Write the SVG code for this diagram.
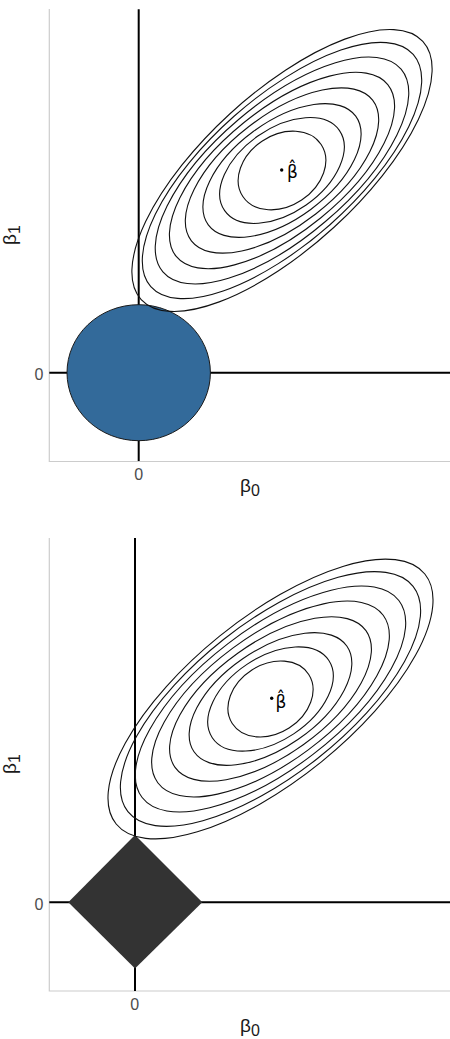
<svg xmlns="http://www.w3.org/2000/svg" width="450" height="1039" viewBox="0 0 450 1039">
<style>
.frame{stroke:#cccccc;stroke-width:1.2;fill:none}
.axis{stroke:#000;stroke-width:2;fill:none}
.contour{stroke:#111;stroke-width:1.1;fill:none}
.tick{font-family:"Liberation Sans",Arial,sans-serif;font-size:16px;fill:#4d4d4d}
.title{font-family:"Liberation Sans",Arial,sans-serif;font-size:19px;fill:#1a1a1a}
.lbl{font-family:"DejaVu Sans","Liberation Sans",sans-serif;font-size:17px;fill:#000}
</style>
<rect width="450" height="1039" fill="#fff"/>

<g id="panel-ridge">
  <g id="ridge-axes">
    <path class="frame" d="M49.3,9 V461.5 H450"/>
    <path class="axis" d="M138.7,9.3 V461 M49.3,372.7 H450"/>
  </g>
  <g id="ridge-constraint">
    <ellipse cx="138.7" cy="372.7" rx="71.7" ry="68" fill="#336a9a" stroke="#1a1a1a" stroke-width="1"/>
  </g>
  <g id="ridge-contours">
    <ellipse class="contour" cx="282" cy="170.5" rx="47" ry="35.5" transform="rotate(-33.6 282 170.5)"/>
    <ellipse class="contour" cx="282" cy="170.5" rx="70" ry="42.1" transform="rotate(-35 282 170.5)"/>
    <ellipse class="contour" cx="282" cy="170.5" rx="91.6" ry="48.4" transform="rotate(-36.4 282 170.5)"/>
    <ellipse class="contour" cx="282" cy="170.5" rx="114.7" ry="55" transform="rotate(-37.8 282 170.5)"/>
    <ellipse class="contour" cx="282" cy="170.5" rx="136.3" ry="61.2" transform="rotate(-39.1 282 170.5)"/>
    <ellipse class="contour" cx="282" cy="170.5" rx="156.4" ry="67" transform="rotate(-40.4 282 170.5)"/>
    <ellipse class="contour" cx="282" cy="170.5" rx="175.2" ry="72.4" transform="rotate(-41.5 282 170.5)"/>
    <ellipse class="contour" cx="282" cy="170.5" rx="191" ry="77" transform="rotate(-42.5 282 170.5)"/>
  </g>
  <g id="ridge-betahat">
    <circle cx="281.7" cy="170" r="1.7" fill="#000"/>
    <text class="lbl" x="287" y="177.5">β&#x302;</text>
  </g>
  <g id="ridge-labels">
    <text class="tick" x="43.5" y="380" text-anchor="end">0</text>
    <text class="tick" x="138.7" y="480" text-anchor="middle">0</text>
    <text class="title" x="240" y="492">β<tspan font-size="16" dy="3.5">0</tspan></text>
    <text class="title" transform="translate(16,245) rotate(-90)">β<tspan font-size="16" dy="3.5">1</tspan></text>
  </g>
</g>

<g id="panel-lasso">
  <g id="lasso-axes">
    <path class="frame" d="M49.3,538 V991 H450"/>
    <path class="axis" d="M135,538 V991 M49.3,902.3 H450"/>
  </g>
  <g id="lasso-constraint">
    <polygon points="135,835 202.3,902.3 135,968.5 68.3,902.3" fill="#333333"/>
  </g>
  <g id="lasso-contours">
    <ellipse class="contour" cx="270.5" cy="699" rx="45.4" ry="34.5" transform="rotate(-32.6 270.5 699)"/>
    <ellipse class="contour" cx="270.5" cy="699" rx="69.9" ry="41.9" transform="rotate(-33.6 270.5 699)"/>
    <ellipse class="contour" cx="270.5" cy="699" rx="92.9" ry="48.9" transform="rotate(-34.6 270.5 699)"/>
    <ellipse class="contour" cx="270.5" cy="699" rx="117.4" ry="56.3" transform="rotate(-35.6 270.5 699)"/>
    <ellipse class="contour" cx="270.5" cy="699" rx="140.4" ry="63.3" transform="rotate(-36.6 270.5 699)"/>
    <ellipse class="contour" cx="270.5" cy="699" rx="161.8" ry="69.8" transform="rotate(-37.5 270.5 699)"/>
    <ellipse class="contour" cx="270.5" cy="699" rx="181.7" ry="75.8" transform="rotate(-38.3 270.5 699)"/>
    <ellipse class="contour" cx="270.5" cy="699" rx="198.6" ry="80.9" transform="rotate(-39 270.5 699)"/>
  </g>
  <g id="lasso-betahat">
    <circle cx="271.7" cy="698.3" r="1.7" fill="#000"/>
    <text class="lbl" x="275.5" y="707.5">β&#x302;</text>
  </g>
  <g id="lasso-labels">
    <text class="tick" x="43.5" y="910" text-anchor="end">0</text>
    <text class="tick" x="134.8" y="1010" text-anchor="middle">0</text>
    <text class="title" x="240" y="1032">β<tspan font-size="16" dy="3.5">0</tspan></text>
    <text class="title" transform="translate(16,774) rotate(-90)">β<tspan font-size="16" dy="3.5">1</tspan></text>
  </g>
</g>
</svg>
